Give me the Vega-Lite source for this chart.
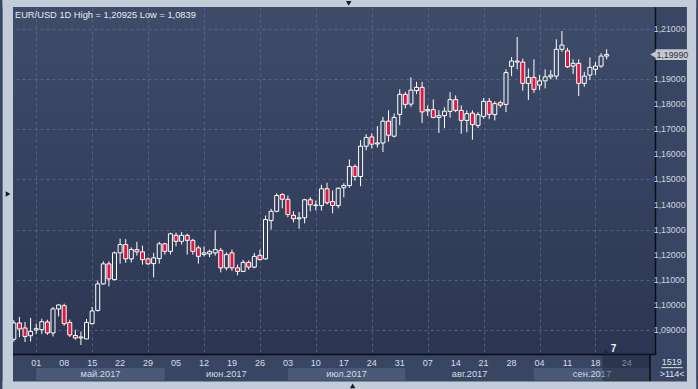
{
"$schema":"https://vega.github.io/schema/vega-lite/v6.json",
"width":647,"height":347,
"autosize":{"type":"none"},
"padding":{"left":8,"top":7,"right":43,"bottom":35},
"background":"#394663",
"config":{"font":"Liberation Sans","view":{"stroke":null,"fill":{"gradient":"linear","x1":0,"y1":0,"x2":0,"y2":1,"stops":[{"offset":0,"color":"#3e4c6a"},{"offset":1,"color":"#2c3652"}]}}},
"datasets":{
"candles":[
{"d":-4,"o":1.0862,"h":1.0938,"l":1.0852,"c":1.0927},
{"d":-3,"o":1.0927,"h":1.0951,"l":1.0870,"c":1.0903},
{"d":-2,"o":1.0907,"h":1.0931,"l":1.0851,"c":1.0873},
{"d":-1,"o":1.0876,"h":1.0947,"l":1.0853,"c":1.0893},
{"d":0,"o":1.0899,"h":1.0924,"l":1.0883,"c":1.0904},
{"d":1,"o":1.0900,"h":1.0944,"l":1.0883,"c":1.0932},
{"d":2,"o":1.0931,"h":1.0940,"l":1.0880,"c":1.0887},
{"d":3,"o":1.0887,"h":1.0991,"l":1.0873,"c":1.0983},
{"d":4,"o":1.0983,"h":1.1001,"l":1.0953,"c":1.0999},
{"d":5,"o":1.0996,"h":1.1004,"l":1.0916,"c":1.0924},
{"d":6,"o":1.0929,"h":1.0940,"l":1.0871,"c":1.0879},
{"d":7,"o":1.0877,"h":1.0900,"l":1.0860,"c":1.0867},
{"d":8,"o":1.0867,"h":1.0893,"l":1.0839,"c":1.0871},
{"d":9,"o":1.0863,"h":1.0943,"l":1.0863,"c":1.0929},
{"d":10,"o":1.0924,"h":1.0991,"l":1.0921,"c":1.0975},
{"d":11,"o":1.0977,"h":1.1096,"l":1.0973,"c":1.1083},
{"d":12,"o":1.1083,"h":1.1173,"l":1.1080,"c":1.1163},
{"d":13,"o":1.1163,"h":1.1173,"l":1.1073,"c":1.1103},
{"d":14,"o":1.1100,"h":1.1212,"l":1.1097,"c":1.1207},
{"d":15,"o":1.1207,"h":1.1264,"l":1.1164,"c":1.1240},
{"d":16,"o":1.1240,"h":1.1262,"l":1.1167,"c":1.1183},
{"d":17,"o":1.1183,"h":1.1229,"l":1.1169,"c":1.1220},
{"d":18,"o":1.1220,"h":1.1251,"l":1.1196,"c":1.1211},
{"d":19,"o":1.1211,"h":1.1236,"l":1.1160,"c":1.1180},
{"d":20,"o":1.1183,"h":1.1188,"l":1.1160,"c":1.1163},
{"d":21,"o":1.1164,"h":1.1207,"l":1.1109,"c":1.1187},
{"d":22,"o":1.1184,"h":1.1251,"l":1.1164,"c":1.1243},
{"d":23,"o":1.1243,"h":1.1247,"l":1.1200,"c":1.1213},
{"d":24,"o":1.1213,"h":1.1288,"l":1.1200,"c":1.1283},
{"d":25,"o":1.1277,"h":1.1288,"l":1.1233,"c":1.1253},
{"d":26,"o":1.1253,"h":1.1290,"l":1.1240,"c":1.1277},
{"d":27,"o":1.1277,"h":1.1284,"l":1.1200,"c":1.1257},
{"d":28,"o":1.1257,"h":1.1263,"l":1.1200,"c":1.1213},
{"d":29,"o":1.1227,"h":1.1236,"l":1.1164,"c":1.1193},
{"d":30,"o":1.1201,"h":1.1233,"l":1.1193,"c":1.1207},
{"d":31,"o":1.1203,"h":1.1220,"l":1.1190,"c":1.1212},
{"d":32,"o":1.1207,"h":1.1296,"l":1.1196,"c":1.1220},
{"d":33,"o":1.1217,"h":1.1227,"l":1.1129,"c":1.1147},
{"d":34,"o":1.1147,"h":1.1209,"l":1.1137,"c":1.1200},
{"d":35,"o":1.1207,"h":1.1220,"l":1.1135,"c":1.1147},
{"d":36,"o":1.1147,"h":1.1160,"l":1.1117,"c":1.1133},
{"d":37,"o":1.1133,"h":1.1179,"l":1.1130,"c":1.1169},
{"d":38,"o":1.1169,"h":1.1177,"l":1.1140,"c":1.1150},
{"d":39,"o":1.1150,"h":1.1207,"l":1.1145,"c":1.1193},
{"d":40,"o":1.1197,"h":1.1220,"l":1.1177,"c":1.1180},
{"d":41,"o":1.1183,"h":1.1356,"l":1.1180,"c":1.1340},
{"d":42,"o":1.1336,"h":1.1383,"l":1.1300,"c":1.1373},
{"d":43,"o":1.1373,"h":1.1445,"l":1.1369,"c":1.1436},
{"d":44,"o":1.1440,"h":1.1445,"l":1.1385,"c":1.1421},
{"d":45,"o":1.1421,"h":1.1436,"l":1.1349,"c":1.1360},
{"d":46,"o":1.1357,"h":1.1373,"l":1.1329,"c":1.1343},
{"d":47,"o":1.1343,"h":1.1370,"l":1.1303,"c":1.1347},
{"d":48,"o":1.1347,"h":1.1423,"l":1.1325,"c":1.1419},
{"d":49,"o":1.1419,"h":1.1429,"l":1.1373,"c":1.1399},
{"d":50,"o":1.1396,"h":1.1416,"l":1.1376,"c":1.1398},
{"d":51,"o":1.1396,"h":1.1479,"l":1.1376,"c":1.1463},
{"d":52,"o":1.1463,"h":1.1487,"l":1.1400,"c":1.1407},
{"d":53,"o":1.1412,"h":1.1456,"l":1.1365,"c":1.1396},
{"d":54,"o":1.1396,"h":1.1469,"l":1.1385,"c":1.1465},
{"d":55,"o":1.1467,"h":1.1485,"l":1.1429,"c":1.1476},
{"d":56,"o":1.1476,"h":1.1580,"l":1.1467,"c":1.1552},
{"d":57,"o":1.1552,"h":1.1560,"l":1.1496,"c":1.1512},
{"d":58,"o":1.1512,"h":1.1657,"l":1.1473,"c":1.1633},
{"d":59,"o":1.1633,"h":1.1681,"l":1.1617,"c":1.1668},
{"d":60,"o":1.1670,"h":1.1684,"l":1.1624,"c":1.1641},
{"d":61,"o":1.1642,"h":1.1713,"l":1.1628,"c":1.1646},
{"d":62,"o":1.1646,"h":1.1750,"l":1.1610,"c":1.1733},
{"d":63,"o":1.1733,"h":1.1777,"l":1.1651,"c":1.1677},
{"d":64,"o":1.1673,"h":1.1764,"l":1.1668,"c":1.1748},
{"d":65,"o":1.1760,"h":1.1860,"l":1.1717,"c":1.1840},
{"d":66,"o":1.1840,"h":1.1850,"l":1.1784,"c":1.1800},
{"d":67,"o":1.1801,"h":1.1908,"l":1.1790,"c":1.1857},
{"d":68,"o":1.1855,"h":1.1890,"l":1.1841,"c":1.1868},
{"d":69,"o":1.1868,"h":1.1890,"l":1.1726,"c":1.1770},
{"d":70,"o":1.1774,"h":1.1796,"l":1.1754,"c":1.1779},
{"d":71,"o":1.1779,"h":1.1820,"l":1.1744,"c":1.1748},
{"d":72,"o":1.1748,"h":1.1777,"l":1.1686,"c":1.1755},
{"d":73,"o":1.1755,"h":1.1788,"l":1.1705,"c":1.1773},
{"d":74,"o":1.1772,"h":1.1849,"l":1.1747,"c":1.1819},
{"d":75,"o":1.1819,"h":1.1836,"l":1.1769,"c":1.1776},
{"d":76,"o":1.1776,"h":1.1796,"l":1.1683,"c":1.1736},
{"d":77,"o":1.1736,"h":1.1776,"l":1.1689,"c":1.1763},
{"d":78,"o":1.1765,"h":1.1776,"l":1.1659,"c":1.1719},
{"d":79,"o":1.1716,"h":1.1769,"l":1.1705,"c":1.1759},
{"d":80,"o":1.1752,"h":1.1825,"l":1.1743,"c":1.1812},
{"d":81,"o":1.1812,"h":1.1825,"l":1.1741,"c":1.1760},
{"d":82,"o":1.1759,"h":1.1812,"l":1.1736,"c":1.1803},
{"d":83,"o":1.1807,"h":1.1815,"l":1.1787,"c":1.1797},
{"d":84,"o":1.1800,"h":1.1940,"l":1.1769,"c":1.1927},
{"d":85,"o":1.1952,"h":1.1989,"l":1.1913,"c":1.1973},
{"d":86,"o":1.1969,"h":1.2069,"l":1.1940,"c":1.1973},
{"d":87,"o":1.1969,"h":1.1983,"l":1.1855,"c":1.1884},
{"d":88,"o":1.1884,"h":1.1944,"l":1.1817,"c":1.1908},
{"d":89,"o":1.1908,"h":1.1980,"l":1.1846,"c":1.1860},
{"d":90,"o":1.1877,"h":1.1917,"l":1.1857,"c":1.1894},
{"d":91,"o":1.1894,"h":1.1940,"l":1.1864,"c":1.1910},
{"d":92,"o":1.1910,"h":1.1937,"l":1.1900,"c":1.1917},
{"d":93,"o":1.1913,"h":1.2060,"l":1.1900,"c":1.2020},
{"d":94,"o":1.2020,"h":1.2093,"l":1.2010,"c":1.2037},
{"d":95,"o":1.2014,"h":1.2026,"l":1.1946,"c":1.1950},
{"d":96,"o":1.1953,"h":1.1980,"l":1.1921,"c":1.1964},
{"d":97,"o":1.1964,"h":1.1980,"l":1.1833,"c":1.1884},
{"d":98,"o":1.1884,"h":1.1930,"l":1.1870,"c":1.1913},
{"d":99,"o":1.1917,"h":1.1988,"l":1.1897,"c":1.1948},
{"d":100,"o":1.1940,"h":1.1970,"l":1.1917,"c":1.1953},
{"d":101,"o":1.1953,"h":1.2004,"l":1.1946,"c":1.1993},
{"d":102,"o":1.1993,"h":1.2020,"l":1.1980,"c":1.1999}
],
"months":[
{"m":"май.2017","a":0,"b":23,"hl":true},
{"m":"июн.2017","a":23,"b":45,"hl":false},
{"m":"июл.2017","a":45,"b":66,"hl":true},
{"m":"авг.2017","a":66,"b":89,"hl":false},
{"m":"сен.2017","a":89,"b":109.75,"hl":true}
],
"xticks":[
{"v":0,"t":"01"},{"v":5,"t":"08"},{"v":10,"t":"15"},{"v":15,"t":"22"},{"v":20,"t":"29"},
{"v":25,"t":"05"},{"v":30,"t":"12"},{"v":35,"t":"19"},{"v":40,"t":"26"},
{"v":45,"t":"03"},{"v":50,"t":"10"},{"v":55,"t":"17"},{"v":60,"t":"24"},{"v":65,"t":"31"},
{"v":70,"t":"07"},{"v":75,"t":"14"},{"v":80,"t":"21"},{"v":85,"t":"28"},
{"v":90,"t":"04"},{"v":95,"t":"11"},{"v":100,"t":"18"},{"v":105.6,"t":"24"}
],
"yticks":[
{"v":1.09,"t":"1,09000"},{"v":1.10,"t":"1,10000"},{"v":1.11,"t":"1,11000"},{"v":1.12,"t":"1,12000"},
{"v":1.13,"t":"1,13000"},{"v":1.14,"t":"1,14000"},{"v":1.15,"t":"1,15000"},{"v":1.16,"t":"1,16000"},
{"v":1.17,"t":"1,17000"},{"v":1.18,"t":"1,18000"},{"v":1.19,"t":"1,19000"},{"v":1.21,"t":"1,21000"}
]
},
"layer":[
{"data":{"name":"candles"},
 "mark":{"type":"rule","color":"#ffffff","strokeWidth":1},
 "encoding":{
  "x":{"field":"d","type":"quantitative","title":null,"scale":{"domain":[-4.15,109.75],"nice":false,"zero":false},
   "axis":{"orient":"bottom","title":null,"values":[0,5,10,15,20,25,30,35,40,45,50,55,60,65,70,75,80,85,90,95,100,105.6],
    "labels":false,"grid":true,"gridDash":[3,3],"gridColor":"#5b6988","gridOpacity":0.8,"ticks":false,"domainColor":"#0b0e15","domainWidth":1.5}},
  "y":{"field":"l","type":"quantitative","title":null,"scale":{"domain":[1.0803,1.2189],"nice":false,"zero":false},
   "axis":{"orient":"right","title":null,"values":[1.09,1.1,1.11,1.12,1.13,1.14,1.15,1.16,1.17,1.18,1.19,1.2,1.21],
    "labels":false,"grid":true,"gridDash":[3,3],"gridColor":"#5b6988","gridOpacity":0.8,"ticks":false,"domainColor":"#0b0e15","domainWidth":1.5}},
  "y2":{"field":"h"}}},
{"data":{"name":"months"},"transform":[{"filter":"datum.hl"}],
 "mark":{"type":"rect","color":"#4a5976"},
 "encoding":{"x":{"field":"a","type":"quantitative","title":null},"x2":{"field":"b"},
  "y":{"datum":1.07471,"type":"quantitative","title":null},"y2":{"datum":1.06972}}},
{"data":{"name":"months"},"transform":[{"calculate":"(datum.a+datum.b)/2","as":"mid"}],
 "mark":{"type":"text","fontSize":9.3,"color":"#d3dae6","baseline":"middle","align":"center"},
 "encoding":{"x":{"field":"mid","type":"quantitative","title":null},"y":{"datum":1.0723,"type":"quantitative","title":null},"text":{"field":"m"}}},
{"data":{"name":"xticks"},
 "mark":{"type":"text","fontSize":9,"color":"#d6dde8","baseline":"middle","align":"center"},
 "encoding":{"x":{"field":"v","type":"quantitative","title":null},"y":{"datum":1.07671,"type":"quantitative","title":null},"text":{"field":"t"}}},
{"data":{"name":"yticks"},
 "mark":{"type":"text","fontSize":8.8,"color":"#cdd5e1","baseline":"middle","align":"left"},
 "encoding":{"x":{"datum":110.42,"type":"quantitative","title":null},"y":{"field":"v","type":"quantitative","title":null},"text":{"field":"t"}}},
{"data":{"name":"candles"},
 "mark":{"type":"bar","size":4,"stroke":"#ffffff","strokeWidth":1},
 "encoding":{
  "x":{"field":"d","type":"quantitative","title":null},
  "y":{"field":"o","type":"quantitative","title":null},
  "y2":{"field":"c"},
  "fill":{"condition":{"test":"datum.o > datum.c","value":"#e3173e"},"field":"c","type":"quantitative",
   "scale":{"domain":[1.0803,1.2189],"range":["#2c3652","#3e4c6a"]},"legend":null}}},
{"data":{"values":[{}]},"mark":{"type":"rect","color":"#1a2135","opacity":0.45},
 "encoding":{"x":{"datum":101.25,"type":"quantitative","title":null},"x2":{"datum":109.75},"y":{"datum":1.0803,"type":"quantitative","title":null},"y2":{"datum":1.0693}}},
{"data":{"values":[{}]},"mark":{"type":"rule","color":"#0b0e15","strokeWidth":1.5},
 "encoding":{"x":{"datum":109.75,"type":"quantitative","title":null},"y":{"datum":1.0803,"type":"quantitative","title":null},"y2":{"datum":1.0693}}},
{"data":{"values":[{}]},"mark":{"type":"rule","color":"#dfe5ee","strokeWidth":1},
 "encoding":{"x":{"datum":111.8,"type":"quantitative","title":null},"x2":{"datum":115.6},"y":{"datum":1.07483,"type":"quantitative","title":null}}},
{"data":{"values":[{}]},"mark":{"type":"text","text":"1519","fontSize":9,"color":"#dfe5ee","align":"center","baseline":"middle"},
 "encoding":{"x":{"datum":113.62,"type":"quantitative","title":null},"y":{"datum":1.07723,"type":"quantitative","title":null}}},
{"data":{"values":[{}]},"mark":{"type":"text","text":">114<","fontSize":9,"color":"#dfe5ee","align":"center","baseline":"middle"},
 "encoding":{"x":{"datum":113.7,"type":"quantitative","title":null},"y":{"datum":1.07219,"type":"quantitative","title":null}}},
{"data":{"values":[{}]},"mark":{"type":"point","shape":"triangle-up","filled":true,"size":22,"color":"#1f2638","opacity":1},
 "encoding":{"x":{"datum":101.83,"type":"quantitative","title":null},"y":{"datum":1.0815,"type":"quantitative","title":null}}},
{"data":{"values":[{}]},"mark":{"type":"text","text":"7","fontSize":10,"fontWeight":"bold","color":"#f0f3f8","align":"center","baseline":"middle"},
 "encoding":{"x":{"datum":103.23,"type":"quantitative","title":null},"y":{"datum":1.0823,"type":"quantitative","title":null}}},
{"data":{"values":[{}]},"mark":{"type":"rect","color":"#c3cdd9"},
 "encoding":{"x":{"datum":-6,"type":"quantitative","title":null},"x2":{"datum":118},"y":{"datum":1.2189,"type":"quantitative","title":null},"y2":{"datum":1.2235}}},
{"data":{"values":[{}]},"mark":{"type":"rect","color":"#c3cdd9"},
 "encoding":{"x":{"datum":-6,"type":"quantitative","title":null},"x2":{"datum":-4.15},"y":{"datum":1.065,"type":"quantitative","title":null},"y2":{"datum":1.2235}}},
{"data":{"values":[{}]},"mark":{"type":"rect","color":"#c3cdd9"},
 "encoding":{"x":{"datum":116.35,"type":"quantitative","title":null},"x2":{"datum":118},"y":{"datum":1.065,"type":"quantitative","title":null},"y2":{"datum":1.2235}}},
{"data":{"values":[{}]},"mark":{"type":"rect","color":"#c3cdd9"},
 "encoding":{"x":{"datum":-6,"type":"quantitative","title":null},"x2":{"datum":118},"y":{"datum":1.06932,"type":"quantitative","title":null},"y2":{"datum":1.065}}},
{"data":{"values":[{}]},"mark":{"type":"point","shape":"triangle-down","filled":true,"size":30,"color":"#161b26","opacity":1},
 "encoding":{"x":{"datum":55.88,"type":"quantitative","title":null},"y":{"datum":1.2203,"type":"quantitative","title":null}}},
{"data":{"values":[{}]},"mark":{"type":"point","shape":"triangle-up","filled":true,"size":30,"color":"#161b26","opacity":1},
 "encoding":{"x":{"datum":56.58,"type":"quantitative","title":null},"y":{"datum":1.06752,"type":"quantitative","title":null}}},
{"data":{"values":[{}]},"mark":{"type":"point","shape":"triangle-right","filled":true,"size":30,"color":"#161b26","opacity":1},
 "encoding":{"x":{"datum":-5.03,"type":"quantitative","title":null},"y":{"datum":1.14422,"type":"quantitative","title":null}}},
{"data":{"values":[{}]},"mark":{"type":"rect","color":"#c2c8cf"},
 "encoding":{"x":{"datum":110.73,"type":"quantitative","title":null},"x2":{"datum":116.72},"y":{"datum":1.20202,"type":"quantitative","title":null},"y2":{"datum":1.19778}}},
{"data":{"values":[{}]},"mark":{"type":"point","shape":"triangle-left","filled":true,"size":60,"color":"#c2c8cf","opacity":1},
 "encoding":{"x":{"datum":110.38,"type":"quantitative","title":null},"y":{"datum":1.1999,"type":"quantitative","title":null}}},
{"data":{"values":[{}]},"mark":{"type":"text","text":"1,19990","fontSize":8.8,"color":"#2e3545","align":"left","baseline":"middle"},
 "encoding":{"x":{"datum":110.9,"type":"quantitative","title":null},"y":{"datum":1.1999,"type":"quantitative","title":null}}},
{"data":{"values":[{}]},"mark":{"type":"text","text":"EUR/USD 1D High = 1,20925 Low = 1,0839","fontSize":9.3,"color":"#e6eaf2","align":"left","baseline":"middle"},
 "encoding":{"x":{"datum":-3.8,"type":"quantitative","title":null},"y":{"datum":1.21571,"type":"quantitative","title":null}}}
]
}
